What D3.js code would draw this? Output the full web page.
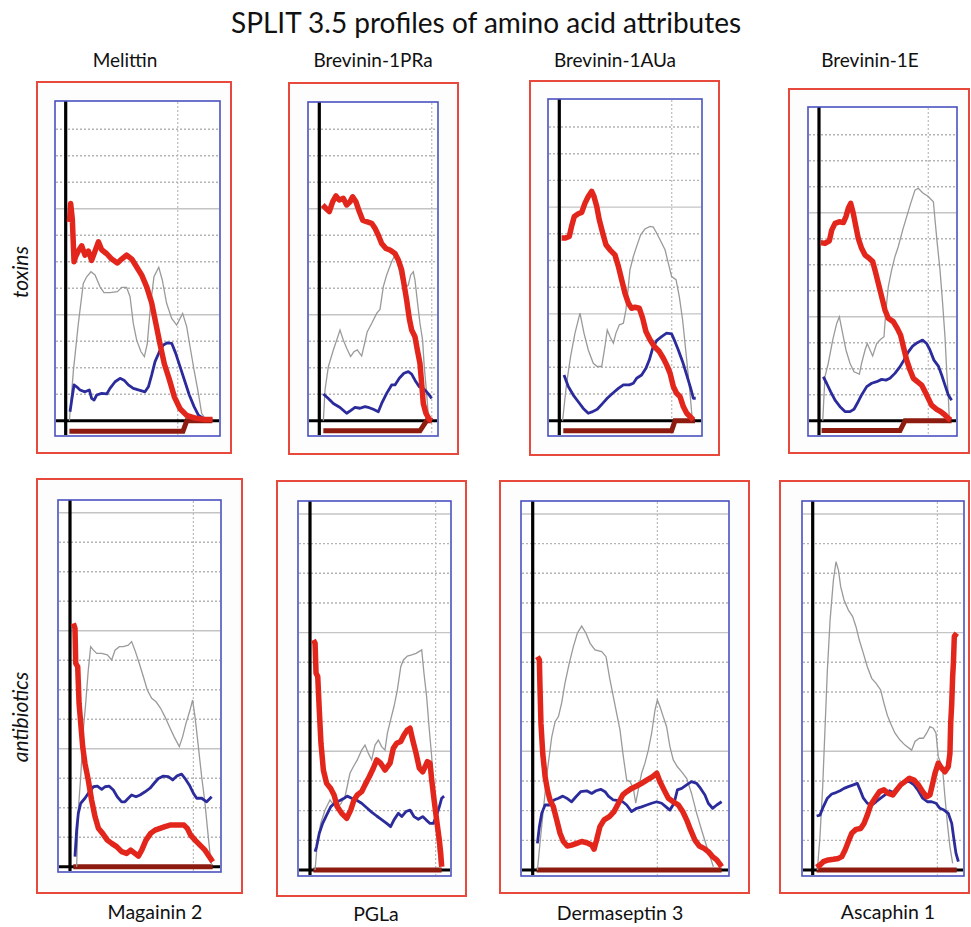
<!DOCTYPE html>
<html>
<head>
<meta charset="utf-8">
<script src="https://cdn.jsdelivr.net/npm/d3@7"></script>
<style>
  body { margin: 0; background: #fff; }
  svg { display: block; font-family: Lato, "Open Sans", sans-serif; }
</style>
</head>
<body>
<svg id="chart" width="971" height="927"></svg>
<script>
// ---- data (x: % of profile width from the y axis, y: grid units) ----
var topNames = ["Melittin", "Brevinin-1PRa", "Brevinin-1AUa", "Brevinin-1E"];
var bottomNames = ["Magainin 2", "PGLa", "Dermaseptin 3", "Ascaphin 1"];
var rowNames = ["toxins", "antibiotics"];

var melittinRed = [[2.4,7.5],[3.2,8.2],[4.3,7.6],[5.4,6.0],[6.5,6.2],[8.2,6.4],[10.4,6.6],[12.5,6.25],[14.7,6.4],[16.8,6.05],[19,6.4],[21.2,6.75],[23.3,6.45],[26.6,6.3],[29.8,6.1],[33.5,5.95],[36.3,6.1],[39.5,6.25],[42.8,6.1],[46,5.8],[49.2,5.5],[52.5,5.05],[55.7,4.45],[58.5,3.65],[61.1,2.9],[63.9,2.15],[67.2,1.55],[70.4,0.9],[74.1,0.45],[78.4,0.2],[83.8,0.1],[89.2,0.05],[95.2,0.05]];
var melittinGray = [[2.4,0],[5,1.9],[8.2,3.67],[11.4,5.18],[13.6,5.43],[16.4,5.62],[19,5.5],[22.2,5.06],[24.8,4.83],[28.7,4.83],[33.5,4.87],[36.3,5.03],[39.5,5.03],[41.7,4.68],[43.8,3.67],[46,3.04],[48.8,2.6],[51,2.42],[52.9,2.92],[55.1,4.43],[57.2,5.43],[60.3,5.79],[62.6,5.31],[65.4,4.43],[68.7,3.86],[71.9,3.61],[75.8,4.05],[78.4,3.55],[80.6,2.79],[83.2,1.91],[86,1.03],[88.1,0.28],[90.3,0.09]];
var melittinBlue = [[2.8,0.34],[3.9,0.78],[5.4,1.35],[7.1,1.28],[9.3,1.16],[12.5,1.09],[15.3,1.16],[16.8,0.84],[18.4,0.78],[20.1,0.97],[23.3,1.03],[26.6,1.01],[28.7,1.22],[32,1.47],[35.2,1.6],[37.8,1.53],[40.6,1.35],[43.8,1.22],[47.1,1.16],[51.4,1.09],[53.6,1.28],[55.7,1.72],[57.9,2.23],[60.7,2.6],[63.3,2.86],[65.9,2.94],[68.7,2.92],[71.3,2.54],[74.1,2.04],[77.3,1.47],[80.1,0.97],[83.2,0.53],[86,0.21],[89.2,0.09]];
var melittinBar = [[2.4,-0.4],[76,-0.4],[78.5,0],[95,0]];

var brev1PRaRed = [[2.8,8.14],[5.6,8.01],[8.4,7.89],[11.2,8.26],[14,8.48],[16.8,8.33],[20.2,8.39],[23,8.14],[25.8,8.26],[28,8.45],[30.8,8.26],[33.6,7.89],[36.4,7.57],[39.8,7.51],[44,7.45],[46.8,7.26],[49.6,7.0],[52.4,6.69],[56,6.5],[59.4,6.44],[63.6,6.31],[66.4,6.06],[69.2,5.69],[71.1,5.18],[73.4,4.55],[75.6,3.86],[77.6,3.42],[80.4,3.17],[82.4,2.67],[84.6,2.16],[86,1.41],[87.4,0.65],[89.6,0.28],[92.4,0.05],[94.7,0]];
var brev1PRaGray = [[3.4,0],[4.8,1.16],[7.6,2.04],[11.8,2.67],[14.6,3.04],[17.4,3.42],[20.2,3.04],[23,2.73],[26.3,2.42],[29.1,2.6],[31.9,2.67],[35.6,2.44],[38.4,2.98],[40.3,3.36],[44,3.67],[48.2,4.05],[51,4.2],[53.8,5.06],[56.6,5.5],[60.8,6.0],[63.6,6.25],[65.5,6.0],[68.3,5.43],[71.1,4.99],[74.8,5.12],[76.8,5.5],[79,5.62],[80.4,5.31],[82.6,4.43],[84.6,3.67],[86.8,3.04],[88.2,2.04],[90.2,1.03],[91.9,0.03]];
var brev1PRaBlue = [[3.4,1.01],[7.6,0.84],[11.8,0.65],[17.4,0.5],[23,0.28],[26.3,0.38],[30,0.5],[34.2,0.47],[38.4,0.53],[42,0.49],[45.4,0.43],[49.6,0.34],[52.4,0.65],[56.6,1.03],[60.8,1.35],[63.6,1.35],[67.2,1.6],[71.1,1.79],[74.8,1.85],[77.6,1.76],[80.4,1.53],[84,1.28],[87.4,1.22],[90.2,1.09],[92.4,0.97],[94.4,0.84]];
var brev1PRaBar = [[3.4,-0.38],[84.6,-0.38],[90.2,0],[94.4,0]];

var brev1AUaRed = [[1.6,6.84],[4,6.84],[7,6.9],[8.6,7.28],[10.5,7.65],[13.3,7.75],[15.7,7.8],[18,8.15],[20.3,8.4],[22.7,8.59],[24.3,8.4],[26.2,8.03],[28,7.53],[30.4,7.03],[32.7,6.59],[35.5,6.4],[39,6.21],[41.4,5.78],[43.7,5.28],[46,4.78],[48.4,4.4],[50.7,4.21],[53,4.25],[56.1,4.21],[58.4,3.84],[60.7,3.34],[63.6,3.03],[66.6,2.78],[70.1,2.59],[72.9,2.34],[75.2,2.09],[77.6,1.78],[79.9,1.28],[82.2,1.03],[84.6,0.9],[86.9,0.53],[89.3,0.28],[92.1,0.13],[93.9,0.03]];
var brev1AUaGray = [[2.3,0],[5.1,1.4],[7.9,2.4],[11,3.28],[14.5,4.03],[17.3,3.28],[20.3,2.65],[23.8,2.15],[26.6,2.03],[29.7,2.03],[32,2.78],[33.6,3.4],[35.5,3.15],[37.9,2.9],[39.7,3.28],[42.1,3.59],[44.9,3.65],[46.7,4.15],[48.4,5.03],[49.5,5.65],[51.9,6.15],[54.2,6.53],[57,6.96],[60,7.18],[63.6,7.28],[65.9,7.25],[68.2,7.03],[70.6,6.78],[74.1,6.4],[76.4,5.9],[78.7,5.4],[81.8,5.28],[84.1,4.65],[86.4,3.78],[88.1,2.9],[90,1.9],[91.6,1.03],[93,0.15]];
var brev1AUaBlue = [[3.3,1.71],[6.3,1.28],[9.8,0.96],[13.3,0.71],[16.8,0.46],[20.3,0.28],[23.4,0.34],[26.6,0.43],[30.4,0.65],[33.6,0.84],[37.4,1.03],[41.4,1.21],[44.9,1.34],[49.1,1.34],[51.9,1.4],[54.2,1.59],[57.7,1.71],[60.7,1.96],[63.1,2.28],[65.4,2.71],[68.2,3.0],[71.7,3.15],[75.2,3.28],[78.7,3.25],[81.1,2.96],[83.4,2.65],[86.4,2.21],[89.3,1.71],[92.1,1.21],[93.9,0.84],[95.6,0.84]];
var brev1AUaBar = [[2.8,-0.38],[78.7,-0.38],[81.1,0],[95.1,0]];

var brev1ERed = [[1.2,6.85],[4.3,6.82],[7.5,6.92],[9.2,7.33],[11.6,7.59],[14.7,7.65],[17.6,7.62],[19.5,7.85],[21.2,8.17],[22.9,8.36],[24.8,7.97],[26.7,7.46],[28.4,7.01],[30.8,6.63],[33.3,6.37],[36.4,6.24],[38.8,6.12],[40.5,5.79],[42.9,5.28],[45.3,4.77],[47.7,4.26],[50.1,3.94],[53.7,3.81],[56.6,3.55],[59,3.29],[61,2.85],[63.4,2.33],[65.8,1.95],[68.2,1.63],[71.1,1.5],[74.2,1.37],[76.6,1.12],[79,0.86],[81.4,0.6],[85.1,0.44],[88,0.35],[91.1,0.22],[93.5,0.09],[95.2,0.03]];
var brev1EGray = [[2.7,0],[4.3,1.69],[6.7,2.21],[9.9,3.1],[12.8,3.74],[14.7,4.0],[17.1,3.36],[19.5,2.72],[22.4,2.21],[25.3,1.88],[29.2,1.79],[30.8,2.21],[33.3,2.72],[34.9,2.97],[36.9,2.72],[38.8,2.49],[41.7,2.97],[44.6,3.13],[47,3.23],[48.4,4.26],[50.1,5.15],[52.5,5.79],[54.9,6.31],[57.3,6.69],[60.5,7.33],[63.4,7.85],[66.3,8.36],[69.4,8.87],[71.8,8.94],[74.9,8.77],[79,8.62],[82.7,8.42],[83.9,7.72],[85.5,6.82],[87.5,5.79],[89.4,4.51],[91.1,3.23],[92.3,1.95],[93.5,0.92],[94.2,0.09]];
var brev1EBlue = [[3.1,1.69],[5.5,1.44],[8.4,1.12],[11.6,0.79],[15.2,0.54],[18.8,0.35],[22.4,0.35],[25.3,0.44],[27.7,0.67],[30.8,0.99],[34.5,1.31],[38.1,1.44],[41.7,1.5],[45.3,1.59],[48.4,1.56],[51.3,1.63],[54.9,1.82],[58.6,2.08],[61.4,2.33],[64.6,2.65],[67.7,2.87],[71.1,3.0],[74.9,3.1],[77.8,2.97],[80.2,2.72],[83.1,2.33],[86.3,2.1],[88.7,1.76],[91.1,1.37],[93.5,0.99],[95.9,0.79]];
var brev1EBar = [[1.9,-0.38],[58.6,-0.38],[62.2,0],[95.9,0]];

var magainin2Red = [[2.2,8.25],[3.3,8.08],[3.8,6.89],[5.1,6.78],[6,5.54],[7.1,4.86],[8.4,4.07],[9.9,3.5],[12.1,2.94],[14.3,2.26],[16.6,1.69],[18.8,1.3],[21.6,1.13],[24.7,0.9],[27.6,0.79],[30.9,0.68],[34.2,0.51],[37.5,0.45],[40.2,0.56],[43,0.45],[45.3,0.36],[47.5,0.56],[50.3,0.9],[53.4,1.13],[56.3,1.24],[59.6,1.3],[62.9,1.36],[66.2,1.41],[70.6,1.41],[75.5,1.41],[77.7,1.3],[79.9,1.07],[82.8,0.9],[86.1,0.73],[89.4,0.56],[92.3,0.34],[94.5,0.17]];
var magainin2Gray = [[4.4,0],[5.5,1.92],[7.1,3.05],[8.8,4.63],[10.4,5.54],[12.1,6.67],[13.7,7.46],[15.5,7.34],[17.7,7.23],[21,7.23],[24.7,7.18],[27.6,7.01],[29.8,7.34],[32.7,7.46],[35.3,7.46],[38.6,7.51],[40.8,7.63],[43,7.34],[45.9,6.89],[48.6,6.44],[51.2,5.99],[54.1,5.71],[57,5.59],[60,5.37],[62.9,5.08],[65.8,4.75],[68.9,4.41],[72.4,4.07],[74.6,4.41],[76.8,4.86],[79.5,5.31],[81.2,5.65],[82.8,5.08],[85,4.07],[87.2,3.05],[89.4,2.15],[90.9,1.36],[92.7,0.45],[93.8,0.06]];
var magainin2Blue = [[3.3,0.34],[4.4,1.24],[5.5,1.81],[7.1,2.15],[9.9,2.32],[12.8,2.54],[15.5,2.71],[18.1,2.73],[21,2.62],[23.2,2.71],[26,2.73],[28.7,2.6],[31.3,2.37],[34.2,2.2],[36.4,2.2],[38.6,2.32],[40.8,2.43],[43.7,2.37],[46.4,2.43],[49.7,2.54],[53,2.66],[55.6,2.82],[58.5,2.99],[61.8,3.07],[65.1,3.05],[68,2.94],[70.6,3.07],[73.9,3.14],[76.2,2.99],[79,2.77],[81.7,2.49],[83.9,2.32],[87.2,2.32],[90.5,2.2],[93.8,2.37]];
var magainin2Bar = [[2.2,0],[94.5,0]];

var pglaRed = [[2.4,7.75],[3.6,7.64],[4.3,6.63],[5.5,6.52],[6.6,5.39],[7.8,4.27],[9.5,3.37],[11.8,2.92],[14.7,2.75],[17.1,2.53],[19.4,2.13],[22.5,1.91],[26.1,1.74],[28.9,2.02],[31.3,2.36],[33.6,2.53],[36.7,2.64],[39.1,2.87],[42.2,3.15],[45,3.43],[47.4,3.71],[50.2,3.6],[53.3,3.37],[56.9,3.6],[59.2,4.1],[61.6,4.27],[64.5,4.33],[66.8,4.55],[69.2,4.72],[71.1,4.78],[73,4.38],[75.4,3.93],[77.7,3.43],[80.1,3.31],[81.8,3.48],[83.4,3.65],[85.3,3.6],[86.5,3.03],[88.2,2.36],[90,1.69],[91.9,1.01],[92.9,0.56],[93.6,0.11]];
var pglaGray = [[3.6,0],[5.2,0.9],[7.6,1.57],[10.7,2.02],[14.2,2.36],[17.8,2.13],[21.3,2.19],[24.9,2.47],[28.4,3.26],[30.8,3.48],[33.6,3.71],[36.7,4.04],[39.1,4.21],[41.5,3.93],[43.8,3.71],[46.2,4.21],[48.6,4.38],[50.9,4.16],[53.3,4.04],[55,4.61],[57.3,5.06],[59.7,5.51],[62.1,6.07],[64.5,6.85],[66.4,7.08],[69.2,7.21],[72.3,7.25],[75.4,7.3],[79.4,7.42],[81,6.63],[82.9,5.84],[84.8,4.72],[86.5,3.82],[87.7,2.92],[89.3,1.69],[91.2,0.56],[92.4,0.06]];
var pglaBlue = [[3.6,0.62],[4.7,0.79],[6.6,1.24],[9,1.57],[11.8,1.85],[14.7,2.13],[17.8,2.27],[21.3,2.34],[24.2,2.42],[26.5,2.49],[29.6,2.42],[33.2,2.35],[36.7,2.25],[40.3,2.1],[43.8,1.95],[47.4,1.82],[50.9,1.7],[54.5,1.57],[57.3,1.46],[59.7,1.69],[62.8,1.91],[65.2,1.8],[68.2,1.97],[71.1,2.02],[73.9,1.8],[77,1.71],[80.1,1.8],[82.5,1.69],[85.3,1.57],[87.7,1.57],[90,1.85],[91.9,2.13],[93.6,2.42],[95.3,2.49]];
var pglaBar = [[2.4,0],[93.6,0]];

var derma3Red = [[2.4,7.19],[3.4,7.08],[3.7,6.18],[4.2,4.94],[5.1,3.93],[6.3,3.15],[7.5,2.7],[8.8,2.36],[10.5,2.13],[12.2,1.69],[13.9,1.24],[15.6,0.96],[17.6,0.81],[19.8,0.84],[22.4,0.9],[24.9,0.96],[27.5,0.92],[30,0.84],[31.2,0.7],[32.5,1.01],[34.2,1.46],[36.3,1.69],[39,1.8],[41.4,1.97],[43.6,2.25],[45.8,2.53],[47.8,2.64],[50.3,2.75],[52.9,2.83],[55.4,2.92],[58,3.03],[61,3.15],[63.1,3.26],[64.7,2.98],[66.8,2.7],[69,2.42],[71.5,2.3],[74.1,2.19],[76.3,1.97],[78.3,1.69],[80.3,1.35],[82.5,1.01],[84.7,0.81],[87.1,0.73],[89.3,0.62],[91.5,0.45],[93.6,0.34],[95.3,0.19],[96.1,0.11]];
var derma3Gray = [[2.4,0],[3.7,0.9],[5.4,2.02],[7.5,3.37],[9.7,4.49],[11.4,5.0],[13.1,5.17],[14.7,5.62],[16.4,6.29],[18.6,6.97],[20.7,7.53],[22.7,7.98],[24.9,8.22],[27.1,7.98],[29.2,7.64],[31.7,7.42],[35.1,7.36],[37.3,7.19],[39,6.52],[41,5.84],[42.7,5.28],[44.4,4.72],[46.1,3.82],[47.8,3.03],[49.5,2.98],[51.2,2.75],[52.4,2.25],[53.7,2.7],[55.4,3.26],[57.1,3.6],[58.8,4.04],[60.5,4.61],[62.2,5.39],[63.4,5.73],[64.7,5.51],[66.4,5.17],[68.1,4.83],[69.8,4.16],[71.5,3.71],[73.6,3.48],[75.8,3.31],[78.3,3.09],[80.8,2.58],[83.4,1.91],[85.9,1.35],[88.5,0.79],[90.2,0.45],[91.9,0.11]];
var derma3Blue = [[2.4,0.9],[3.4,1.46],[4.6,1.91],[6.3,2.19],[8.5,2.19],[10.8,2.36],[13.1,2.42],[15.3,2.49],[17.3,2.42],[19.8,2.3],[22,2.47],[24.4,2.64],[27.5,2.67],[30,2.58],[32.2,2.67],[34.6,2.72],[36.8,2.64],[38.5,2.49],[41,2.36],[43.6,2.34],[45.8,2.3],[47.8,2.19],[50.3,1.97],[52.9,2.08],[55.4,2.13],[58,2.19],[60.5,2.25],[63.1,2.3],[65.6,2.25],[67.8,2.13],[69.8,2.02],[71.9,2.25],[73.6,2.7],[75.8,2.75],[78.3,2.87],[80.8,2.98],[83.4,2.92],[85.4,2.75],[87.6,2.53],[89.3,2.25],[91.5,2.08],[93.6,2.19],[96.1,2.3]];
var derma3Bar = [[2,0],[96.1,0]];

var ascaphin1Red = [[2.6,0.09],[4.8,0.17],[7,0.28],[10.4,0.34],[13.7,0.36],[17,0.39],[19.2,0.45],[21.4,0.67],[23.6,0.96],[25.8,1.24],[28.6,1.37],[31.7,1.4],[33.9,1.57],[36.1,1.85],[38.3,2.19],[41.2,2.42],[44.1,2.64],[47.1,2.7],[50,2.58],[52.9,2.53],[55.5,2.7],[58.1,2.87],[61,2.98],[63.9,3.09],[67,3.03],[69.8,2.87],[72.7,2.64],[75.3,2.47],[77.5,2.53],[79.3,2.92],[80.8,3.26],[83,3.6],[85.2,3.43],[87.4,3.31],[89.6,3.48],[90.7,3.93],[91.2,4.94],[91.9,5.62],[92.5,6.52],[93,6.97],[93.6,7.87],[95.2,7.98]];
var ascaphin1Gray = [[3.1,0],[4.8,1.12],[6.6,2.81],[8.1,4.72],[9.7,6.74],[11.5,8.43],[13.7,9.78],[15.4,10.39],[17,10.11],[18.5,9.55],[20.7,9.1],[23.6,8.76],[26.4,8.54],[28.6,8.2],[30.8,7.75],[33.5,7.3],[36.1,6.85],[39,6.46],[41.9,6.29],[44.9,6.07],[47.1,5.62],[49.3,5.22],[51.5,4.94],[54.4,4.61],[57.7,4.38],[61,4.21],[65.4,4.04],[67.6,4.33],[70.5,4.44],[73.1,4.44],[75.3,4.61],[77.5,4.83],[79.7,4.78],[81.5,4.61],[83,3.82],[84.6,3.6],[85.9,3.37],[87.4,2.47],[89,1.57],[90.7,0.79],[92.5,0.22]];
var ascaphin1Blue = [[2.6,1.82],[4.8,1.85],[7,2.13],[9.7,2.42],[12.6,2.56],[15.4,2.61],[18.1,2.67],[20.7,2.75],[23.6,2.81],[26.9,2.87],[29.5,2.92],[31.3,2.7],[33.5,2.42],[36.1,2.25],[39,2.19],[41.9,2.3],[44.9,2.42],[47.8,2.53],[50.7,2.67],[53.3,2.61],[55.5,2.75],[58.1,2.87],[61,2.98],[63.9,2.98],[67,2.87],[69.8,2.67],[72.7,2.42],[75.8,2.3],[78.6,2.3],[81.5,2.25],[84.1,2.08],[86.8,2.02],[89.6,1.91],[91.9,1.57],[93.4,1.01],[94.7,0.56],[96.3,0.28]];
var ascaphin1Bar = [[2.6,0],[95.2,0]];

// ---- layout of the eight screenshots (pixels) ----
var panels = [
  {name: topNames[0], red: melittinRed, gray: melittinGray, blue: melittinBlue, bar: melittinBar,
   frame: [37, 82, 231, 453], box: [55, 101, 220, 436], ax: 65.7, right: 220, ay: 420.7, unit: 26.5, vgrid: 72.6, lines: 11},
  {name: topNames[1], red: brev1PRaRed, gray: brev1PRaGray, blue: brev1PRaBlue, bar: brev1PRaBar,
   frame: [289, 83, 458, 454], box: [308, 102, 438, 436], ax: 319.3, right: 438.3, ay: 420.7, unit: 26.5, vgrid: 94.5, lines: 11},
  {name: topNames[2], red: brev1AUaRed, gray: brev1AUaGray, blue: brev1AUaBlue, bar: brev1AUaBar,
   frame: [530, 81, 719, 455], box: [548, 99, 702, 436], ax: 559.3, right: 702, ay: 420.7, unit: 26.7, vgrid: 78.8, lines: 11},
  {name: topNames[3], red: brev1ERed, gray: brev1EGray, blue: brev1EBlue, bar: brev1EBar,
   frame: [789, 89, 969, 453], box: [808, 107, 957, 436], ax: 819, right: 957.3, ay: 420.7, unit: 26, vgrid: 79, lines: 11},
  {name: bottomNames[0], red: magainin2Red, gray: magainin2Gray, blue: magainin2Blue, bar: magainin2Bar,
   frame: [37, 479, 242, 893], box: [58, 500, 221, 872], ax: 70, right: 221, ay: 866.7, unit: 29.5, vgrid: 81.7, lines: 12},
  {name: bottomNames[1], red: pglaRed, gray: pglaGray, blue: pglaBlue, bar: pglaBar,
   frame: [277, 481, 466, 896], box: [298, 501, 451, 876], ax: 310, right: 450.7, ay: 870, unit: 29.67, vgrid: 89.3, lines: 12},
  {name: bottomNames[2], red: derma3Red, gray: derma3Gray, blue: derma3Blue, bar: derma3Bar,
   frame: [500, 481, 749, 893], box: [521, 501, 729, 876], ax: 532.7, right: 729.3, ay: 870, unit: 29.67, vgrid: 63.4, lines: 12},
  {name: bottomNames[3], red: ascaphin1Red, gray: ascaphin1Gray, blue: ascaphin1Blue, bar: ascaphin1Bar,
   frame: [780, 481, 969, 893], box: [802, 501, 964, 876], ax: 812.7, right: 964, ay: 870, unit: 29.67, vgrid: 82.4, lines: 12}
];

var svg = d3.select("#chart");

function drawPanel(p) {
  var g = svg.append("g");
  var x = d3.scaleLinear().domain([0, 100]).range([p.ax, p.right]);
  var y = d3.scaleLinear().domain([0, 1]).range([p.ay, p.ay - p.unit]);

  // red frame of the screenshot
  g.append("rect")
    .attr("x", p.frame[0]).attr("y", p.frame[1])
    .attr("width", p.frame[2] - p.frame[0]).attr("height", p.frame[3] - p.frame[1])
    .attr("fill", "#fdfdfd").attr("stroke", "#e8493d").attr("stroke-width", 2);

  // plot area
  g.append("rect")
    .attr("x", p.box[0]).attr("y", p.box[1])
    .attr("width", p.box[2] - p.box[0]).attr("height", p.box[3] - p.box[1])
    .attr("fill", "#fff");

  // horizontal grid
  g.selectAll(".hgrid")
    .data(d3.range(1, p.lines + 1))
    .enter().append("line")
      .attr("x1", p.box[0] + 1).attr("x2", p.box[2] - 1)
      .attr("y1", function(d) { return y(d); })
      .attr("y2", function(d) { return y(d); })
      .attr("stroke", function(d) { return d % 4 === 0 ? "#c4c4c4" : "#b4b4b4"; })
      .attr("stroke-width", 1.4)
      .attr("stroke-dasharray", function(d) { return d % 4 === 0 ? null : "2,2"; });

  // vertical dotted grid line
  g.append("line")
    .attr("x1", x(p.vgrid)).attr("x2", x(p.vgrid))
    .attr("y1", p.box[1] + 1).attr("y2", p.box[3] - 1)
    .attr("stroke", "#bbb").attr("stroke-width", 1.2).attr("stroke-dasharray", "2,2");

  var line = d3.line()
    .x(function(d) { return x(d[0]); })
    .y(function(d) { return y(d[1]); });

  // black axes
  g.append("line")
    .attr("x1", p.box[0] + 1).attr("x2", p.box[2] - 1)
    .attr("y1", p.ay).attr("y2", p.ay)
    .attr("stroke", "#000").attr("stroke-width", 3);
  g.append("line")
    .attr("x1", p.ax).attr("x2", p.ax)
    .attr("y1", p.box[1]).attr("y2", p.box[3] - 1)
    .attr("stroke", "#000").attr("stroke-width", 3.2);

  // profiles
  g.append("path").datum(p.bar).attr("d", line)
    .attr("fill", "none").attr("stroke", "#8e1b10").attr("stroke-width", 5);
  g.append("path").datum(p.gray).attr("d", line)
    .attr("fill", "none").attr("stroke", "#9a9a9a").attr("stroke-width", 1.3);
  g.append("path").datum(p.blue).attr("d", line)
    .attr("fill", "none").attr("stroke", "#2b2b9c").attr("stroke-width", 2.8)
    .attr("stroke-linejoin", "round");
  g.append("path").datum(p.red).attr("d", line)
    .attr("fill", "none").attr("stroke", "#e3261c").attr("stroke-width", 5.5)
    .attr("stroke-linejoin", "round");

  // blue border on top
  g.append("rect")
    .attr("x", p.box[0]).attr("y", p.box[1])
    .attr("width", p.box[2] - p.box[0]).attr("height", p.box[3] - p.box[1])
    .attr("fill", "none").attr("stroke", "#4a52c0").attr("stroke-width", 1.6);
}

panels.forEach(drawPanel);

// ---- text ----
svg.append("text")
  .attr("x", 486).attr("y", 33)
  .attr("text-anchor", "middle").attr("font-size", 28).attr("fill", "#111")
  .text("SPLIT 3.5 profiles of amino acid attributes");

var topCenters = [125, 373, 615, 870];
svg.selectAll(".toplabel")
  .data(topNames)
  .enter().append("text")
    .attr("x", function(d, i) { return topCenters[i]; })
    .attr("y", 67)
    .attr("text-anchor", "middle").attr("font-size", 19).attr("fill", "#111")
    .text(function(d) { return d; });

var bottomCenters = [155, 376, 620, 888];
var bottomBase = [919, 921, 920, 919];
svg.selectAll(".botlabel")
  .data(bottomNames)
  .enter().append("text")
    .attr("x", function(d, i) { return bottomCenters[i]; })
    .attr("y", function(d, i) { return bottomBase[i]; })
    .attr("text-anchor", "middle").attr("font-size", 19.5).attr("fill", "#111")
    .text(function(d) { return d; });

var rowCenters = [272, 717];
svg.selectAll(".rowlabel")
  .data(rowNames)
  .enter().append("text")
    .attr("transform", function(d, i) { return "translate(28," + rowCenters[i] + ") rotate(-90)"; })
    .attr("text-anchor", "middle").attr("font-size", 21).attr("font-style", "italic").attr("fill", "#111")
    .text(function(d) { return d; });
</script>
</body>
</html>
